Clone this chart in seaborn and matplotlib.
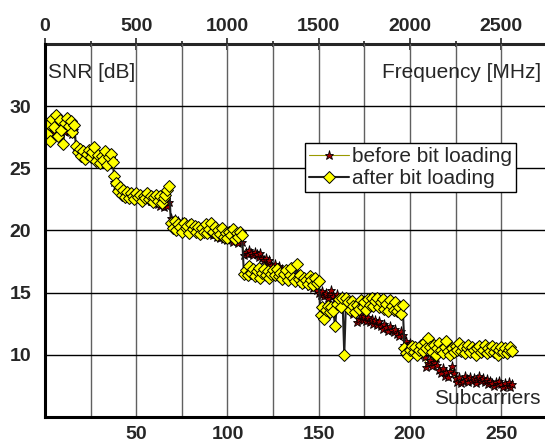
import numpy as np
import pandas as pd
import seaborn as sns
import matplotlib.pyplot as plt
from matplotlib.ticker import FixedLocator

# Data (SNR in dB per subcarrier)
subcarriers = list(range(1, 257))

snr_before = [
    27.6, 28.0, 27.8, 28.3, 27.9, 28.4, 28.1, 27.7, 28.2, 28.5, 27.9, 28.3, 28.0, 28.4, 27.8, 28.1,
    26.8, 26.5, 26.6, 26.3, 26.5, 26.2, 26.4, 26.1, 26.3, 26.0, 26.2, 25.9, 26.1, 25.8, 26.0, 25.7,
    25.9, 25.6, 25.8, 25.5, 25.7, 23.9, 23.6, 23.4, 23.5, 23.2, 23.3, 23.0, 23.1, 22.9, 23.0, 22.8,
    22.9, 22.7, 22.8, 22.9, 22.6, 22.8, 22.5, 22.7, 22.6, 22.4, 22.5, 22.3, 22.4, 22.1, 22.0, 22.2,
    21.9, 22.1, 22.0, 22.3, 21.0, 20.8, 20.9, 20.6, 20.8, 20.5, 20.7, 20.4, 20.6, 20.3, 20.5, 20.2,
    20.4, 20.1, 20.3, 20.0, 20.2, 19.9, 20.1, 19.8, 20.0, 19.7, 19.9, 19.6, 19.8, 19.5, 19.7, 19.4,
    19.6, 19.3, 19.5, 19.2, 19.4, 19.3, 19.1, 19.4, 19.2, 19.0, 19.3, 19.1, 18.0, 18.3, 18.1, 18.4,
    18.2, 18.0, 18.3, 18.1, 17.9, 18.2, 17.8, 17.6, 17.8, 17.4, 17.6, 17.2, 17.0, 17.3, 16.9, 17.1,
    16.7, 16.9, 16.5, 16.8, 16.6, 16.3, 16.5, 16.2, 16.4, 16.0, 16.3, 16.1, 15.8, 16.0, 15.7, 15.9,
    15.5, 15.7, 15.4, 15.6, 15.2, 15.0, 14.8, 15.1, 14.7, 15.0, 14.6, 14.9, 15.2, 14.7, 14.5, 14.9,
    14.6, 14.3, 14.7, 14.4, 14.1, 13.9, 13.6, 13.8, 13.3, 13.5, 12.6, 12.9, 13.2, 12.8, 13.1, 12.7,
    13.0, 12.6, 12.9, 12.5, 12.8, 12.4, 12.7, 12.3, 12.1, 12.5, 12.2, 11.9, 12.3, 12.0, 11.8, 12.1,
    11.7, 11.5, 11.9, 11.6, 10.8, 11.1, 10.6, 10.9, 10.5, 10.2, 10.6, 10.3, 10.0, 10.4, 10.1, 9.8,
    9.0, 9.3, 9.6, 9.1, 9.4, 9.7, 9.2, 8.8, 8.5, 8.9, 8.3, 8.6, 8.2, 8.7, 9.1, 8.5,
    8.1, 7.8, 8.2, 7.7, 7.9, 8.3, 8.0, 7.8, 8.2, 7.9, 8.1, 7.7, 8.0, 8.3, 7.9, 8.1,
    7.8, 8.0, 7.6, 7.9, 7.7, 7.5, 7.8, 7.6, 7.9, 7.6, 7.4, 7.7, 7.5, 7.8, 7.4, 7.6,
]

snr_after = [
    27.8, 28.6, 27.2, 29.0, 28.3, 29.3, 27.6, 28.9, 28.1, 27.0, 28.7, 29.1, 28.4, 28.8, 27.9, 28.5,
    26.8, 26.3, 26.6, 26.0, 26.4, 25.8, 26.2, 26.5, 25.9, 26.3, 26.7, 25.6, 26.1, 25.4, 26.0, 25.7,
    26.4, 25.3, 25.9, 26.2, 25.5, 24.4, 23.8, 23.2, 23.5, 22.9, 23.3, 22.7, 23.1, 22.6, 23.0, 22.8,
    22.5, 23.0, 22.7, 22.9, 22.4, 22.8, 22.6, 23.0, 22.5, 22.8, 22.3, 22.7, 22.9, 22.4, 22.8, 22.2,
    22.6, 22.9, 23.3, 23.6, 20.6, 20.2, 20.8, 20.0, 20.5, 20.3, 19.9, 20.6, 20.2, 20.4, 19.8, 20.5,
    20.1, 20.4, 19.9, 20.3, 19.7, 20.2, 19.9, 20.5, 19.8, 20.1, 20.6, 19.9, 20.3, 19.6, 20.0, 19.7,
    20.2, 19.5, 19.8, 19.4, 19.9, 19.6, 20.1, 19.3, 19.8, 19.5, 19.9, 19.6, 16.5, 16.8, 16.4, 17.1,
    16.6, 16.9, 16.3, 16.7, 17.0, 16.2, 16.6, 16.9, 16.4, 16.7, 16.2, 16.5, 16.8, 16.4, 16.9, 16.3,
    16.6, 16.1, 16.5, 16.8, 16.0, 16.4, 17.0, 16.2, 15.9, 17.3, 16.1, 16.4, 15.8, 16.2, 16.0, 15.7,
    16.3, 16.0, 15.6, 16.2, 15.8, 15.9, 13.2, 13.8, 12.9, 13.6, 13.9, 13.4, 13.8, 13.5, 12.3, 14.1,
    14.5, 13.8, 14.6, 10.0, 14.6, 14.2, 13.6, 14.3, 13.9, 13.4, 14.0, 13.7, 14.4, 13.8, 14.2, 13.6,
    14.5, 14.0, 14.6, 13.9, 14.3, 14.6, 13.8, 14.2, 14.5, 13.7, 14.1, 13.5, 14.4, 13.9, 13.6, 14.2,
    13.5, 13.8, 13.3, 14.0, 10.5, 10.1, 9.9, 10.4, 10.7, 10.2, 10.6, 10.0, 10.4, 10.8, 10.3, 11.0,
    10.5, 11.3, 10.6, 10.2, 10.8, 10.0, 10.5, 10.9, 10.4, 10.1, 10.6, 11.1, 10.3, 10.0, 10.5, 10.2,
    10.7, 10.4, 10.9, 10.3, 10.6, 10.1, 10.5, 10.8, 10.2, 10.6, 10.4, 10.0, 10.5, 10.7, 10.2, 10.4,
    10.8, 10.1, 10.5, 10.3, 10.7, 10.2, 10.5, 10.0, 10.4, 10.6, 10.2, 10.5, 10.1, 10.4, 10.6, 10.3,
]

freq_ticks = [0, 500, 1000, 1500, 2000, 2500]
freq_minor = [250, 750, 1250, 1750, 2250, 2750]
sub_ticks = [50, 100, 150, 200, 250]
sub_minor = [25, 75, 125, 175, 225]
snr_ticks = [10, 15, 20, 25, 30]

df = pd.DataFrame({'subcarrier': subcarriers, 'before': snr_before, 'after': snr_after})

sns.set_style('white')
plt.rcParams['font.family'] = ['Liberation Sans', 'DejaVu Sans']

fig = plt.figure(figsize=(5.45, 4.44), dpi=100)
ax = fig.add_axes([45 / 545, 27.3 / 444, 500 / 545, 372.4 / 444])

# grid first so the data sits on top
ax.set_axisbelow(True)
ax.grid(axis='y', which='major', color='black', linewidth=1.0)
ax.grid(axis='x', which='both', color='#606060', linewidth=1.0)

sns.lineplot(data=df, x='subcarrier', y='before', ax=ax, color='#9a9a00', linewidth=0.8,
             marker='*', markersize=6.5, markerfacecolor='#a00000', markeredgecolor='black',
             markeredgewidth=0.6, label='before bit loading')
sns.lineplot(data=df, x='subcarrier', y='after', ax=ax, color='#202020', linewidth=1.5,
             marker='D', markersize=6, markerfacecolor='#ffff00', markeredgecolor='black',
             markeredgewidth=0.7, label='after bit loading')

ax.set_xlim(0, 274)
ax.set_ylim(5, 35)
ax.xaxis.set_major_locator(FixedLocator(sub_ticks))
ax.xaxis.set_minor_locator(FixedLocator(sub_minor))
ax.yaxis.set_major_locator(FixedLocator(snr_ticks))
ax.set_xlabel('')
ax.set_ylabel('')

ax.tick_params(axis='both', which='both', direction='in', length=5, width=1.2, color='black',
               labelsize=14, pad=10)
ax.tick_params(axis='x', which='both', top=False, pad=7)
ax.tick_params(axis='y', right=False)
for lbl in ax.get_xticklabels() + ax.get_yticklabels():
    lbl.set_fontweight('bold')

for side in ['left', 'bottom']:
    ax.spines[side].set_linewidth(2.2)
    ax.spines[side].set_color('black')
ax.spines['right'].set_visible(False)
ax.spines['top'].set_visible(False)

# top axis: frequency in MHz (10 MHz per subcarrier)
sec = ax.secondary_xaxis('top', functions=(lambda n: n * 10, lambda f: f / 10))
sec.xaxis.set_major_locator(FixedLocator(freq_ticks))
sec.xaxis.set_minor_locator(FixedLocator(freq_minor))
sec.tick_params(axis='x', which='major', direction='inout', length=8, width=1.2, labelsize=14, pad=3)
sec.tick_params(axis='x', which='minor', direction='inout', length=5, width=1.2)
sec.spines['top'].set_linewidth(2.2)
for lbl in sec.get_xticklabels():
    lbl.set_fontweight('bold')

ax.text(0.006, 0.925, 'SNR [dB]', transform=ax.transAxes, fontsize=15, ha='left', va='center')
ax.text(0.992, 0.925, 'Frequency [MHz]', transform=ax.transAxes, fontsize=15, ha='right', va='center')
ax.text(0.992, 0.05, 'Subcarriers', transform=ax.transAxes, fontsize=15, ha='right', va='center')

leg = ax.legend(loc='upper left', bbox_to_anchor=(0.52, 0.735), fontsize=15, frameon=True,
                fancybox=False, framealpha=1, edgecolor='black', borderpad=0.2,
                labelspacing=0.15, handlelength=1.9, handletextpad=0.15, borderaxespad=0)
leg.get_frame().set_linewidth(1.0)

fig.savefig('out.png', dpi=100)
